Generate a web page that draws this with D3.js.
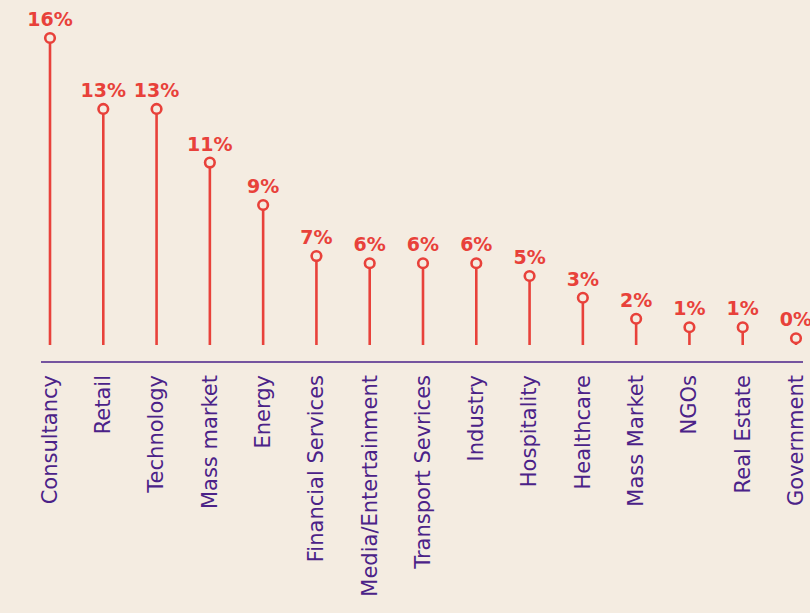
<!DOCTYPE html>
<html>
<head>
<meta charset="utf-8">
<script src="https://cdn.jsdelivr.net/npm/d3@7"></script>
<style>
  html, body { margin: 0; padding: 0; background: #f4ece1; }
  svg { display: block; }
</style>
</head>
<body>
<svg id="chart" width="810" height="613"></svg>
<script>
const categories = ["Consultancy", "Retail", "Technology", "Mass market", "Energy",
  "Financial Services", "Media/Entertainment", "Transport Sevrices", "Industry",
  "Hospitality", "Healthcare", "Mass Market", "NGOs", "Real Estate", "Government"];
const values = [16, 12.22, 12.22, 9.36, 7.1, 4.38, 4.0, 4.0, 4.0, 3.32, 2.16, 1.04, 0.59, 0.59, 0];
const valueLabels = ["16%", "13%", "13%", "11%", "9%", "7%", "6%", "6%", "6%", "5%", "3%", "2%", "1%", "1%", "0%"];

const red = "#e8413a";
const purple = "#4b2288";
const bg = "#f4ece1";

const svg = d3.select("#chart");
svg.append("rect").attr("width", 810).attr("height", 613).attr("fill", bg);

const x = d3.scalePoint().domain(categories).range([50, 796]);
const y = d3.scaleLinear().domain([0, 16]).range([338.3, 38]);
const stemBottom = 345;
const axisY = 362;

const data = categories.map((c, i) => ({ c, v: values[i], label: valueLabels[i] }));

// stems
svg.append("g").selectAll("line").data(data).join("line")
  .attr("x1", d => x(d.c)).attr("x2", d => x(d.c))
  .attr("y1", stemBottom).attr("y2", d => y(d.v))
  .attr("stroke", red).attr("stroke-width", 2.6);

// circles
svg.append("g").selectAll("circle").data(data).join("circle")
  .attr("cx", d => x(d.c)).attr("cy", d => y(d.v)).attr("r", 4.8)
  .attr("fill", bg).attr("stroke", red).attr("stroke-width", 2.6);

// value labels
svg.append("g").selectAll("text").data(data).join("text")
  .attr("x", d => x(d.c)).attr("y", d => y(d.v) - 12)
  .attr("text-anchor", "middle")
  .attr("font-family", "'DejaVu Sans', sans-serif")
  .attr("font-weight", 700)
  .attr("font-size", 19)
  .attr("fill", red)
  .text(d => d.label);

// axis
const axis = d3.axisBottom(x).tickSize(0).tickPadding(0);
const ag = svg.append("g").attr("transform", `translate(0,${axisY})`).call(axis);
ag.select(".domain").attr("d", "M41,0H803").attr("stroke", purple).attr("stroke-width", 1.5);
ag.selectAll(".tick text")
  .attr("transform", "rotate(-90)")
  .attr("x", -13).attr("y", 0).attr("dy", "0.3em")
  .attr("text-anchor", "end")
  .attr("font-family", "'DejaVu Sans', sans-serif")
  .attr("font-weight", 400)
  .attr("font-size", 21)
  .attr("fill", purple);
</script>
</body>
</html>
